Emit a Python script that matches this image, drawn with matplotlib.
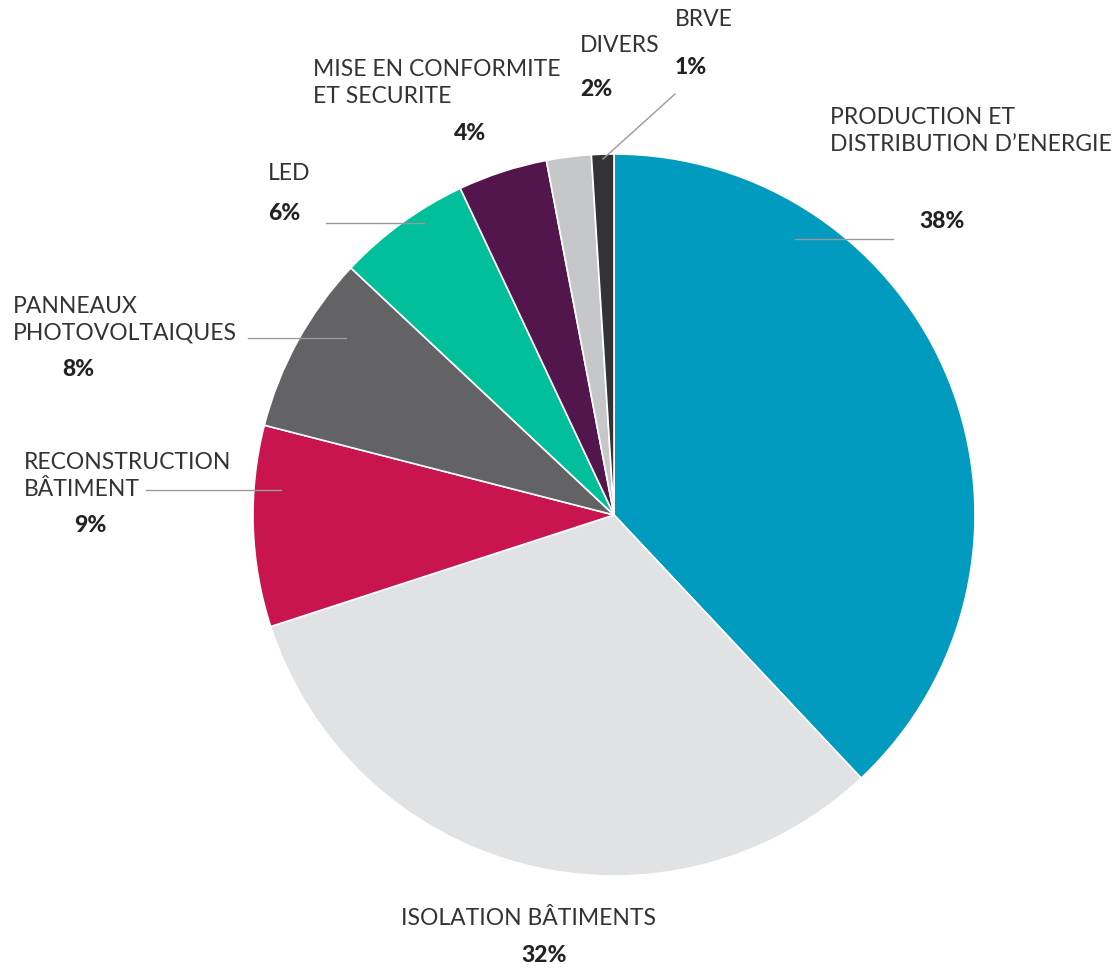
import matplotlib
matplotlib.use("Agg")
import matplotlib.pyplot as plt

# data
labels = ["PRODUCTION ET\nDISTRIBUTION D\u2019ENERGIE", "ISOLATION B\u00c2TIMENTS",
          "RECONSTRUCTION\nB\u00c2TIMENT", "PANNEAUX\nPHOTOVOLTAIQUES", "LED",
          "MISE EN CONFORMITE\nET SECURITE", "DIVERS", "BRVE"]
values = [38, 32, 9, 8, 6, 4, 2, 1]
colors = ["#009bbf", "#e1e2e4", "#c8144f", "#636365", "#00bf9a",
          "#52154c", "#c6c7c9", "#333336"]

W, H = 1115, 970
fig = plt.figure(figsize=(W / 100, H / 100), dpi=100)
ax = fig.add_axes([0, 0, 1, 1])

cx, cy, r = 614, H - 516, 361
ax.pie(values, colors=colors, startangle=90, counterclock=False,
       center=(cx, cy), radius=r, frame=True,
       wedgeprops=dict(edgecolor="white", linewidth=1.2))
ax.set_xlim(0, W)
ax.set_ylim(0, H)
ax.set_aspect("equal")
ax.axis("off")

fam = ["Lato", "DejaVu Sans"]
tc = "#333333"

def Y(y):
    return H - y

def name(x, y, s, ha="left"):
    ax.text(x, Y(y), s, ha=ha, va="center", fontsize=16.5, family=fam,
            fontweight="normal", color=tc, linespacing=1.3)

def pct(x, y, v, ha="center"):
    ax.text(x, Y(y), f"{v}%", ha=ha, va="center", fontsize=16.5, family=fam,
            fontweight="black", color="#222222")

def leader(x0, y0, x1, y1):
    ax.plot([x0, x1], [Y(y0), Y(y1)], color="#9a9a9a", lw=1)

# label layout
name(830, 131, labels[0]); pct(942, 222, values[0]); leader(795, 240, 893, 240)
name(528, 919, labels[1], ha="center"); pct(544, 956, values[1])
name(24, 476, labels[2]); pct(90, 525, values[2]); leader(146, 491, 281, 491)
name(13, 320, labels[3]); pct(78, 370, values[3]); leader(248, 339, 346, 339)
name(268, 174, labels[4]); pct(268, 214, values[4], ha="left"); leader(326, 224, 424, 224)
name(313, 83, labels[5]); pct(470, 134, values[5])
name(580, 45, labels[6]); pct(580, 89, values[6], ha="left")
name(675, 20, labels[7]); pct(675, 67, values[7], ha="left"); leader(675, 95, 603, 160)

fig.savefig("out.png", dpi=100)
